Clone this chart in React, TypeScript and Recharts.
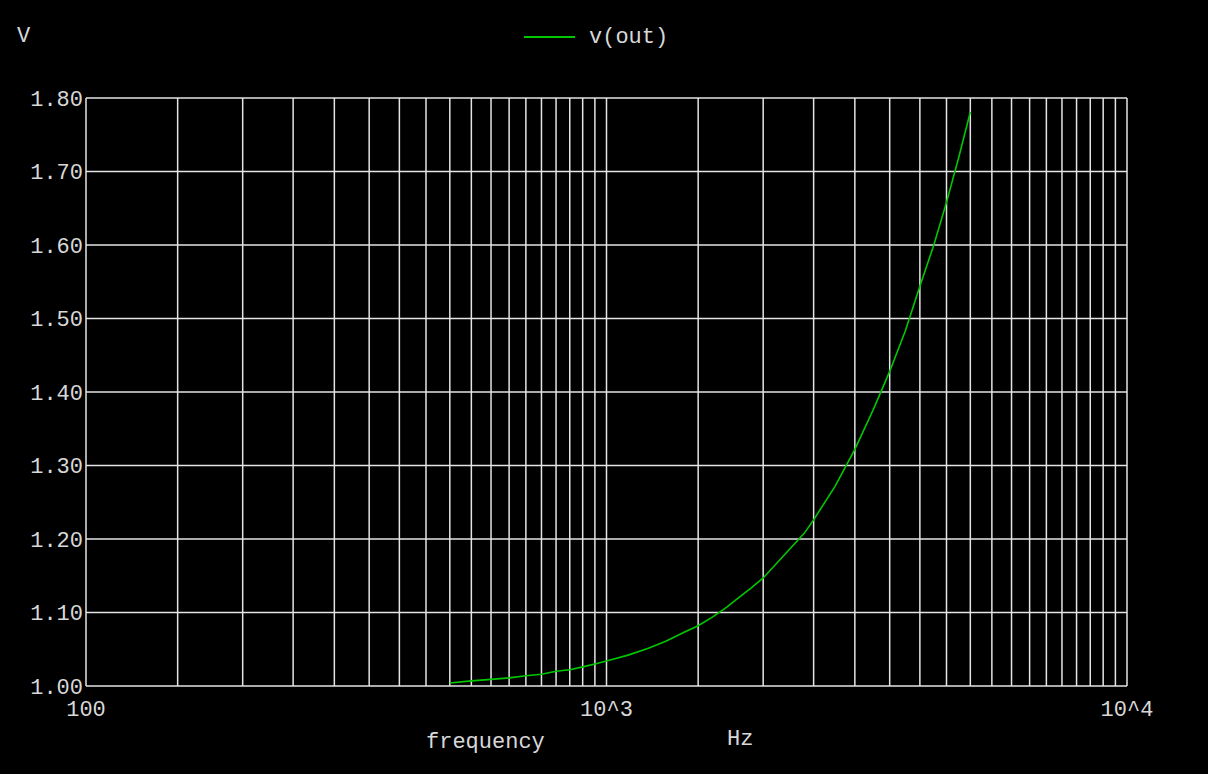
import React from 'react';
import { LineChart, Line, XAxis, YAxis, CartesianGrid } from 'recharts';

// frequency points (Hz) and v(out) readings (V)
const freqs = [
    500, 550, 600, 650, 700, 750, 800, 850, 900, 950, 1000, 1100, 1200, 1300, 1400, 1500,
    1600, 1700, 1800, 1900, 2000, 2200, 2400, 2500, 2750, 3000, 3250, 3500, 3750, 4000,
    4250, 4500, 4750, 5000,
];
const vout = [
    1.004, 1.007, 1.009, 1.011, 1.014, 1.016, 1.02, 1.022, 1.026, 1.03, 1.034, 1.042, 1.051,
    1.061, 1.072, 1.082, 1.094, 1.107, 1.121, 1.134, 1.147, 1.179, 1.208, 1.226, 1.272, 1.322,
    1.375, 1.428, 1.483, 1.544, 1.599, 1.658, 1.719, 1.781,
];

// grid / tick positions on the log axis
const xGridTicks = [
    100, 150, 200, 250, 300, 350, 400, 450, 500, 550, 600, 650, 700, 750, 800, 850, 900, 950,
    1000, 1500, 2000, 2500, 3000, 3500, 4000, 4500, 5000, 5500, 6000, 6500, 7000, 7500, 8000,
    8500, 9000, 9500, 10000,
];
const xLabels: Record<number, string> = { 100: '100', 1000: '10^3', 10000: '10^4' };
const yTicks = [1.0, 1.1, 1.2, 1.3, 1.4, 1.5, 1.6, 1.7, 1.8];

const data = freqs.map((f, i) => ({ freq: f, v: vout[i] }));

const FONT = '"Liberation Mono", "DejaVu Sans Mono", monospace';
const TEXT = '#d8d8d8';
const GREEN = '#00c800';

const txt = (left: number, top: number, s: string) => (
    <div style={{ position: 'absolute', left, top, color: TEXT, fontFamily: FONT, fontSize: 22, lineHeight: '22px', whiteSpace: 'pre' }}>
        {s}
    </div>
);

const App: React.FC = () => {
    return (
        <div style={{ position: 'fixed', left: 0, top: 0, width: 1208, height: 774, background: '#000', overflow: 'hidden' }}>
            <LineChart
                width={1208}
                height={774}
                data={data}
                margin={{ top: 98, right: 81, bottom: 58, left: 26 }}
            >
                <CartesianGrid stroke="#e4e4e4" strokeWidth={1.5} />
                <XAxis
                    dataKey="freq"
                    type="number"
                    scale="log"
                    domain={[100, 10000]}
                    ticks={xGridTicks}
                    interval={0}
                    height={30}
                    axisLine={false}
                    tickLine={false}
                    tickSize={0}
                    tickMargin={14}
                    tickFormatter={(v: number) => xLabels[v] ?? ''}
                    tick={{ fill: TEXT, fontFamily: FONT, fontSize: 22 }}
                />
                <YAxis
                    type="number"
                    domain={[1, 1.8]}
                    ticks={yTicks}
                    interval={0}
                    width={60}
                    axisLine={false}
                    tickLine={false}
                    tickSize={0}
                    tickMargin={3}
                    tickFormatter={(v: number) => v.toFixed(2)}
                    tick={{ fill: TEXT, fontFamily: FONT, fontSize: 22 }}
                />
                <Line
                    type="linear"
                    dataKey="v"
                    stroke={GREEN}
                    strokeWidth={1.6}
                    dot={false}
                    isAnimationActive={false}
                />
            </LineChart>
            {txt(17, 26, 'V')}
            <div style={{ position: 'absolute', left: 524, top: 36, width: 51, height: 2, background: GREEN }} />
            {txt(589, 27, 'v(out)')}
            {txt(426, 732, 'frequency')}
            {txt(727, 729, 'Hz')}
        </div>
    );
};

export default App;
